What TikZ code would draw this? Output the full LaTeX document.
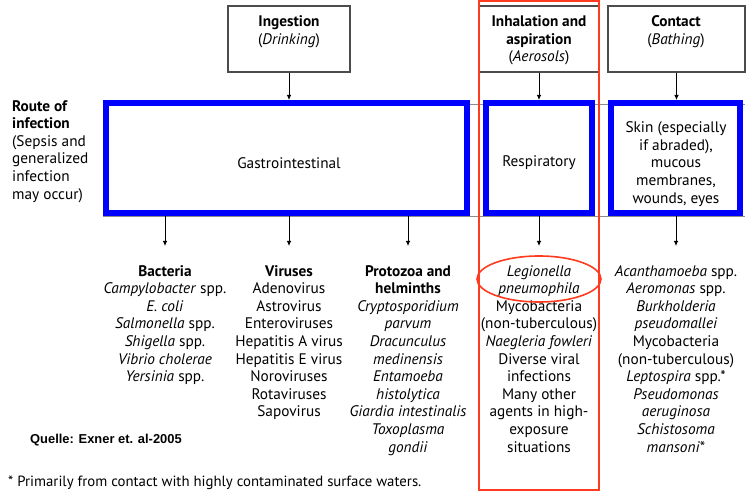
\documentclass[tikz,border=0pt]{standalone}
\usepackage{fontspec}
\setmainfont{PT Sans}
\newfontfamily\arialfont{Liberation Sans}
\usetikzlibrary{arrows.meta,shapes.geometric}
\definecolor{redhl}{RGB}{255,59,31}
\definecolor{boxblue}{RGB}{0,0,255}
\begin{document}
\begin{tikzpicture}[x=1pt,y=-1pt,
  txt/.style={font=\fontsize{15.3}{17.6}\selectfont, align=center, inner sep=0pt},
  topbox/.style={draw=black!70, line width=1.2pt, inner sep=0pt},
  bluebox/.style={draw=boxblue, line width=6pt, inner sep=0pt},
  arr/.style={-{Latex[length=5pt,width=4.5pt]}, line width=0.8pt},
  grayline/.style={draw=black!45, line width=0.8pt}]
\useasboundingbox (0,0) rectangle (747,494);
% thin gray frame lines behind the blue boxes
\coordinate (gl1) at (103,104);
\coordinate (gr1) at (745,104);
\coordinate (gl2) at (103,216);
\coordinate (gr2) at (745,216);
\draw[grayline] (gl1) -- (gr1);
\draw[grayline] (gl2) -- (gr2);
% top boxes
\node[topbox, minimum width=122pt, minimum height=66pt] (ing) at (289,39) {};
\node[topbox, minimum width=119pt, minimum height=66pt] (inh) at (539,39) {};
\node[topbox, minimum width=137pt, minimum height=66pt] (con) at (676.5,39) {};
\node[txt] (ingt) at (289,31.5) {\textbf{Ingestion}\\(\textit{Drinking})};
\node[txt] (inht) at (539,40.5) {\textbf{Inhalation and}\\\textbf{aspiration}\\(\textit{Aerosols})};
\node[txt] (cont) at (676,32) {\textbf{Contact}\\(\textit{Bathing})};
% blue boxes
\node[bluebox, fill=white, minimum width=361pt, minimum height=110pt] (gas) at (286.5,158) {};
\node[bluebox, fill=white, minimum width=106pt, minimum height=110pt] (res) at (539,158) {};
\node[bluebox, fill=white, minimum width=129pt, minimum height=110pt] (skn) at (675.5,158) {};
\node[txt] (gast) at (289,163) {Gastrointestinal};
\node[txt] (rest) at (539,163) {Respiratory};
\node[txt] (sknt) at (676,164) {Skin (especially\\if abraded),\\mucous\\membranes,\\wounds, eyes};
% left label
\node[txt, align=left, anchor=north west] (route) at (12,100) {\textbf{Route of}\\\textbf{infection}\\(Sepsis and\\generalized\\infection\\may occur)};
% arrows top
\draw[arr] (ing.south) -- (ing.south |- gas.north);
\draw[arr] (inh.south) -- (inh.south |- res.north);
\draw[arr] (con.south) -- (con.south |- skn.north);
% arrows bottom
\coordinate (b1) at (165,246);
\coordinate (b2) at (289,246);
\coordinate (b3) at (408,246);
\coordinate (b4) at (539,246);
\coordinate (b5) at (676,246);
\draw[arr] (gas.south -| b1) -- (b1);
\draw[arr] (gas.south -| b2) -- (b2);
\draw[arr] (gas.south -| b3) -- (b3);
\draw[arr] (res.south -| b4) -- (b4);
\draw[arr] (skn.south -| b5) -- (b5);
% columns
\node[txt, anchor=north] (c1) at (165,265) {\textbf{Bacteria}\\\textit{Campylobacter} spp.\\\textit{E. coli}\\\textit{Salmonella} spp.\\\textit{Shigella} spp.\\\textit{Vibrio cholerae}\\\textit{Yersinia} spp.};
\node[txt, anchor=north] (c2) at (289,265) {\textbf{Viruses}\\Adenovirus\\Astrovirus\\Enteroviruses\\Hepatitis A virus\\Hepatitis E virus\\Noroviruses\\Rotaviruses\\Sapovirus};
\node[txt, anchor=north] (c3) at (408,265) {\textbf{Protozoa and}\\\textbf{helminths}\\\textit{Cryptosporidium}\\\textit{parvum}\\\textit{Dracunculus}\\\textit{medinensis}\\\textit{Entamoeba}\\\textit{histolytica}\\\textit{Giardia intestinalis}\\\textit{Toxoplasma}\\\textit{gondii}};
\node[txt, anchor=north] (c4) at (539,265) {\textit{Legionella}\\\textit{pneumophila}\\Mycobacteria\\(non-tuberculous)\\\textit{Naegleria fowleri}\\Diverse viral\\infections\\Many other\\agents in high-\\exposure\\situations};
\node[txt, anchor=north] (c5) at (676,265) {\textit{Acanthamoeba} spp.\\\textit{Aeromonas} spp.\\\textit{Burkholderia}\\\textit{pseudomallei}\\Mycobacteria\\(non-tuberculous)\\\textit{Leptospira} spp.*\\\textit{Pseudomonas}\\\textit{aeruginosa}\\\textit{Schistosoma}\\\textit{mansoni}*};
% source and footnote
\node[anchor=west, inner sep=0pt, font=\arialfont\bfseries\fontsize{12.9}{15}\selectfont] (src) at (30,440) {Quelle: Exner et. al-2005};
\node[anchor=west, inner sep=0pt, font=\fontsize{14.8}{16}\selectfont] (foot) at (8,483) {* Primarily from contact with highly contaminated surface waters.};
% red highlights
\node[draw=redhl, line width=2.5pt, minimum width=120pt, minimum height=489pt, inner sep=0pt] (hl) at (539,245.5) {};
\node[ellipse, draw=redhl, line width=1.6pt, minimum width=124pt, minimum height=46pt, inner sep=0pt] (ell) at (539,279) {};
\end{tikzpicture}
\end{document}
